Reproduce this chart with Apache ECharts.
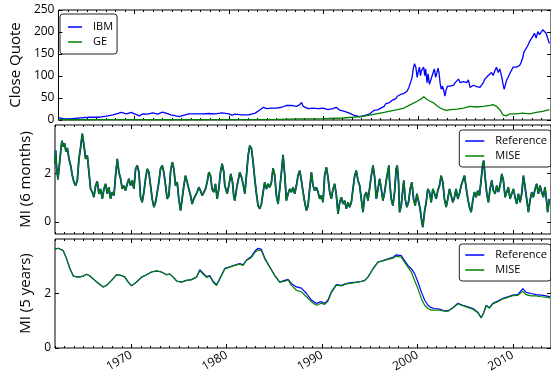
<!DOCTYPE html>
<html>
<head>
<meta charset="utf-8">
<script src="https://cdn.jsdelivr.net/npm/echarts@6.0.0/dist/echarts.min.js"></script>
<style>
  html, body { margin: 0; padding: 0; background: #fff; }
  #chart { width: 551px; height: 375px; }
</style>
</head>
<body>
<div id="chart"></div>
<script>
// close quotes [year, value]
var ibm = [[1962.00,5.6],[1962.52,2.5],[1963.22,2.5],[1964.27,4.8],[1965.32,6.3],[1966.36,6.3],[1967.06,8.7],
  [1967.76,11.8],[1968.28,14.8],[1968.63,17.2],[1969.16,14.1],[1969.68,17.2],[1970.03,14.1],[1970.55,9.4],
  [1970.90,14.1],[1971.42,13.3],[1971.95,16.4],[1972.47,13.3],[1972.99,17.9],[1973.34,15.6],[1973.87,11.8],
  [1974.39,9.4],[1974.74,7.9],[1975.26,11.0],[1975.79,14.1],[1976.48,14.1],[1977.18,14.1],[1977.88,14.8],
  [1978.58,14.1],[1979.28,16.4],[1979.98,14.1],[1980.32,11.0],[1980.67,13.3],[1981.37,11.8],[1982.07,11.8],
  [1982.77,15.6],[1983.29,23.4],[1983.64,28.8],[1983.99,25.7],[1984.51,27.2],[1985.04,27.2],[1985.56,29],
  [1986.09,33],[1986.60,33],[1987.13,31],[1987.48,35],[1987.66,40],[1987.83,31],[1988.36,26],[1988.88,27],
  [1989.40,26],[1989.93,27],[1990.45,23.4],[1990.97,25.7],[1991.32,28.8],[1991.67,22.6],[1992.20,19.5],
  [1992.72,15.6],[1993.24,10.2],[1993.77,7.9],[1994.29,10.2],[1994.81,13.3],[1994.98,17],[1995.33,22],
  [1995.68,23],[1996.03,27],[1996.38,31],[1996.55,37],[1996.73,33],[1996.90,39],[1997.07,40],[1997.25,45],
  [1997.42,43],[1997.60,48],[1997.77,54],[1997.95,53],[1998.12,58],[1998.30,56],[1998.47,60],[1998.64,58],
  [1998.82,66],[1998.99,74],[1999.17,85],[1999.34,97],[1999.45,116],[1999.59,128],[1999.73,120],[1999.87,97],
  [1999.97,108],[2000.11,120],[2000.22,101],[2000.32,112],[2000.46,108],[2000.56,120],[2000.67,101],
  [2000.77,116],[2000.91,85],[2001.02,105],[2001.16,81],[2001.26,77],[2001.40,97],[2001.54,101],[2001.68,116],
  [2001.82,97],[2001.96,108],[2002.07,118],[2002.17,108],[2002.31,81],[2002.41,70],[2002.55,77],[2002.69,66],
  [2002.80,54],[2002.94,70],[2003.08,77],[2003.22,74],[2003.36,77],[2003.53,81],[2003.71,79],[2003.88,85],
  [2004.06,89],[2004.23,93],[2004.40,85],[2004.58,84],[2004.75,87],[2004.93,89],[2005.10,85],[2005.28,91],
  [2005.45,74],[2005.63,70],[2005.80,79],[2005.97,81],[2006.15,76],[2006.32,79],[2006.50,74],[2006.67,77],
  [2006.85,85],[2007.02,93],[2007.20,89],[2007.37,101],[2007.55,105],[2007.72,108],[2007.89,101],[2008.07,112],
  [2008.24,120],[2008.42,108],[2008.59,116],[2008.77,101],[2008.94,81],[2009.05,70],[2009.15,77],[2009.29,89],
  [2009.47,97],[2009.64,105],[2009.81,112],[2009.99,120],[2010.16,124],[2010.34,120],[2010.51,122],
  [2010.69,124],[2010.86,132],[2011.04,143],[2011.14,155],[2011.28,151],[2011.39,163],[2011.56,170],
  [2011.73,178],[2011.91,182],[2012.08,190],[2012.26,197],[2012.43,186],[2012.61,201],[2012.78,194],
  [2012.96,197],[2013.13,205],[2013.30,209],[2013.48,197],[2013.65,194],[2013.83,174]];

var ge = [[1962.00,0.6],[1966.0,0.8],[1970.0,0.7],[1974.0,0.6],[1978.0,0.7],[1982.0,0.9],[1985.04,1.5],
  [1987.7,2.5],[1990.0,3.2],[1992.0,4.5],[1994.0,7.5],[1994.98,11.8],[1996.38,17.2],[1997.77,23.4],
  [1998.47,27.2],[1999.17,35],[1999.87,42.7],[2000.30,48],[2000.56,52.7],[2000.74,50.4],[2000.91,46.6],
  [2001.10,49],[2001.26,42.7],[2001.61,38.8],[2001.96,32.6],[2002.31,27.2],[2002.66,23.4],[2003.01,21.8],
  [2003.36,23.4],[2004.06,24.9],[2004.75,27.2],[2005.45,31.1],[2006.15,29.5],[2006.85,31.1],[2007.55,33.4],
  [2007.89,35],[2008.24,31.1],[2008.59,23.4],[2008.94,11.8],[2009.29,9.4],[2009.64,14.1],[2010.34,14.1],
  [2011.04,15.6],[2011.73,14.1],[2012.43,17.2],[2013.13,19.5],[2013.83,23.4]];

// mutual information over a 6 month window [year, value]
var mi6 = [[1962.00,2.4],[1962.07,2.95],[1962.16,2.3],[1962.31,1.75],[1962.45,2.3],[1962.62,3.0],[1962.73,3.35],
  [1962.87,3.1],[1963.00,3.25],[1963.15,2.9],[1963.29,3.05],[1963.47,2.6],[1963.64,2.33],[1963.82,1.91],
  [1963.99,1.64],[1964.16,1.50],[1964.34,1.71],[1964.51,2.60],[1964.69,3.09],[1964.86,3.64],[1965.04,3.15],
  [1965.21,2.60],[1965.39,2.74],[1965.56,2.05],[1965.73,1.36],[1965.91,1.23],[1966.08,1.02],[1966.26,1.50],
  [1966.43,1.67],[1966.61,1.16],[1966.78,1.36],[1966.96,0.95],[1967.13,1.36],[1967.31,1.57],[1967.48,1.16],
  [1967.65,1.43],[1967.83,0.95],[1968.00,1.23],[1968.18,1.09],[1968.35,1.91],[1968.53,2.60],[1968.70,2.05],
  [1968.88,1.78],[1969.05,1.36],[1969.23,1.50],[1969.40,1.29],[1969.57,1.57],[1969.75,1.78],[1969.92,1.50],
  [1970.10,1.71],[1970.27,1.36],[1970.45,2.19],[1970.62,2.33],[1970.80,2.05],[1970.97,1.02],[1971.14,0.81],
  [1971.32,1.23],[1971.49,1.78],[1971.67,2.19],[1971.84,2.05],[1972.02,1.50],[1972.19,0.95],[1972.37,0.61],
  [1972.54,0.81],[1972.72,1.23],[1972.89,1.64],[1973.06,2.19],[1973.24,2.33],[1973.41,2.05],[1973.59,1.50],
  [1973.76,0.95],[1973.94,1.09],[1974.11,2.05],[1974.29,2.47],[1974.46,2.19],[1974.64,1.50],[1974.81,1.64],
  [1974.98,0.95],[1975.16,0.47],[1975.33,0.95],[1975.51,1.50],[1975.68,1.91],[1975.86,1.64],[1976.03,1.36],
  [1976.21,1.09],[1976.38,0.74],[1976.55,0.95],[1976.73,1.02],[1976.90,1.23],[1977.08,1.43],[1977.25,1.29],
  [1977.43,1.09],[1977.60,1.16],[1977.78,1.36],[1977.95,1.64],[1978.13,2.05],[1978.30,1.91],[1978.47,1.36],
  [1978.65,1.23],[1978.82,1.57],[1979.00,0.95],[1979.17,1.36],[1979.35,2.05],[1979.52,2.40],[1979.70,2.05],
  [1979.80,1.50],[1979.91,1.36],[1980.05,1.16],[1980.26,1.57],[1980.43,1.98],[1980.61,1.64],[1980.75,1.02],
  [1980.85,0.88],[1981.03,1.36],[1981.20,1.71],[1981.37,2.05],[1981.55,1.85],[1981.72,1.57],[1981.90,1.16],
  [1982.07,1.91],[1982.25,2.74],[1982.42,3.15],[1982.60,3.02],[1982.77,2.47],[1982.94,1.78],[1983.12,1.16],
  [1983.29,0.67],[1983.47,0.54],[1983.64,0.74],[1983.82,1.23],[1983.99,1.64],[1984.17,1.36],[1984.34,1.57],
  [1984.52,1.43],[1984.69,1.64],[1984.86,2.22],[1985.04,1.91],[1985.21,1.09],[1985.39,0.74],[1985.56,1.36],
  [1985.74,2.05],[1985.91,2.77],[1986.09,1.91],[1986.26,0.88],[1986.44,1.16],[1986.61,1.36],[1986.78,1.23],
  [1986.96,1.43],[1987.13,1.16],[1987.31,1.50],[1987.48,1.91],[1987.66,2.12],[1987.83,1.71],[1988.01,1.23],
  [1988.18,0.81],[1988.36,0.47],[1988.53,0.67],[1988.70,1.36],[1988.88,2.05],[1989.05,1.50],[1989.23,1.29],
  [1989.40,1.43],[1989.58,1.23],[1989.75,0.95],[1989.93,1.09],[1990.10,0.81],[1990.27,1.91],[1990.45,2.26],
  [1990.62,1.85],[1990.80,1.23],[1990.97,0.95],[1991.15,1.36],[1991.32,1.57],[1991.50,1.09],[1991.67,0.33],
  [1991.85,0.81],[1992.02,1.02],[1992.19,0.74],[1992.37,0.88],[1992.54,0.54],[1992.72,0.81],[1992.89,0.61],
  [1993.07,0.81],[1993.24,1.36],[1993.42,1.91],[1993.59,2.12],[1993.76,1.71],[1993.94,1.50],[1994.11,0.95],
  [1994.29,0.40],[1994.46,1.09],[1994.64,1.23],[1994.81,0.88],[1994.99,0.95],[1995.16,1.91],[1995.34,2.33],
  [1995.51,1.85],[1995.69,0.95],[1995.86,1.36],[1996.03,1.78],[1996.21,1.36],[1996.38,0.88],[1996.56,1.23],
  [1996.73,1.71],[1996.91,2.12],[1997.01,2.33],[1997.07,1.71],[1997.25,0.95],[1997.42,0.67],[1997.60,1.23],
  [1997.77,2.19],[1997.88,2.33],[1998.02,1.64],[1998.12,0.40],[1998.30,0.67],[1998.47,1.36],[1998.57,1.71],
  [1998.71,0.95],[1998.89,0.61],[1999.06,0.81],[1999.24,1.36],[1999.41,1.64],[1999.59,0.95],[1999.76,0.67],
  [1999.94,1.16],[2000.11,1.23],[2000.28,0.54],[2000.46,-0.01],[2000.56,-0.22],[2000.74,0.40],[2000.91,0.81],
  [2001.09,1.36],[2001.26,1.23],[2001.44,0.81],[2001.61,1.36],[2001.79,1.16],[2001.96,0.95],[2002.13,1.29],
  [2002.31,1.50],[2002.48,1.91],[2002.66,1.64],[2002.83,0.95],[2003.01,0.61],[2003.18,0.95],[2003.36,1.36],
  [2003.53,1.09],[2003.71,0.81],[2003.88,1.02],[2004.05,1.36],[2004.23,0.95],[2004.40,1.16],[2004.58,1.50],
  [2004.75,1.50],[2004.93,1.91],[2005.10,1.43],[2005.28,0.95],[2005.45,0.61],[2005.63,0.40],[2005.80,0.88],
  [2005.97,1.23],[2006.15,1.02],[2006.32,1.29],[2006.50,1.09],[2006.67,1.71],[2006.85,2.40],[2006.95,2.53],
  [2007.09,1.85],[2007.27,1.16],[2007.44,0.81],[2007.61,1.36],[2007.79,1.71],[2007.96,1.29],[2008.14,1.16],
  [2008.31,1.50],[2008.49,1.23],[2008.66,1.50],[2008.84,1.98],[2009.01,1.71],[2009.19,1.02],[2009.36,1.23],
  [2009.53,1.43],[2009.71,0.95],[2009.88,1.16],[2010.06,1.36],[2010.23,1.02],[2010.41,0.74],[2010.58,1.16],
  [2010.76,0.81],[2010.93,1.16],[2011.11,1.91],[2011.28,1.43],[2011.45,0.95],[2011.63,0.40],[2011.80,0.88],
  [2011.98,1.23],[2012.15,1.02],[2012.33,1.36],[2012.50,1.57],[2012.68,1.16],[2012.85,1.50],[2013.02,1.23],
  [2013.20,1.02],[2013.37,1.43],[2013.55,0.81],[2013.65,0.40],[2013.83,0.95]];

// mutual information over a 5 year window [year, value]
var mi5Ref = [[1962.00,3.63],[1962.35,3.66],[1962.52,3.70],[1962.87,3.57],[1963.22,3.27],[1963.57,2.91],
  [1963.92,2.64],[1964.44,2.60],[1964.97,2.64],[1965.32,2.71],[1965.66,2.64],[1966.19,2.48],[1966.71,2.33],
  [1967.06,2.24],[1967.41,2.30],[1967.93,2.48],[1968.46,2.69],[1968.98,2.66],[1969.33,2.60],[1969.68,2.42],
  [1970.03,2.28],[1970.55,2.42],[1971.08,2.60],[1971.60,2.69],[1972.12,2.79],[1972.65,2.83],[1973.17,2.79],
  [1973.69,2.69],[1974.04,2.71],[1974.39,2.60],[1974.74,2.46],[1975.26,2.42],[1975.79,2.48],[1976.31,2.51],
  [1976.83,2.60],[1977.18,2.87],[1977.53,2.75],[1977.88,2.62],[1978.23,2.66],[1978.58,2.44],[1978.93,2.32],
  [1979.28,2.55],[1979.80,2.92],[1980.32,2.98],[1980.85,3.04],[1981.37,3.10],[1981.72,3.05],[1982.07,3.23],
  [1982.59,3.36],[1982.94,3.55],[1983.29,3.66],[1983.64,3.62],[1983.99,3.30],[1984.51,2.98],[1985.04,2.66],
  [1985.56,2.42],[1986.09,2.48],[1986.44,2.52],[1986.79,2.36],[1987.31,2.24],[1987.83,2.20],[1988.36,2.00],
  [1988.88,1.76],[1989.40,1.64],[1989.93,1.70],[1990.28,1.64],[1990.62,1.76],[1990.97,2.06],[1991.50,2.33],
  [1992.02,2.30],[1992.54,2.36],[1993.07,2.40],[1993.59,2.42],[1994.12,2.45],[1994.46,2.48],[1994.81,2.60],
  [1995.34,2.91],[1995.86,3.15],[1996.38,3.21],[1996.91,3.27],[1997.43,3.33],[1997.78,3.42],[1998.30,3.39],
  [1998.65,3.21],[1999.00,3.03],[1999.35,2.91],[1999.70,2.73],[2000.05,2.42],[2000.40,2.06],[2000.75,1.76],
  [2001.10,1.57],[2001.45,1.48],[2001.79,1.45],[2002.32,1.43],[2002.84,1.36],[2003.19,1.36],[2003.71,1.48],
  [2004.24,1.64],[2004.76,1.57],[2005.28,1.51],[2005.81,1.45],[2006.33,1.31],[2006.68,1.11],[2006.96,1.31],
  [2007.20,1.57],[2007.55,1.48],[2007.90,1.64],[2008.42,1.72],[2008.95,1.82],[2009.47,1.88],[2009.99,1.94],
  [2010.52,1.96],[2011.04,2.18],[2011.39,2.04],[2011.92,2.00],[2012.44,1.96],[2012.96,1.94],[2013.49,1.91],
  [2013.90,1.88]];

var mi5Mise = [[1962.00,3.63],[1962.35,3.66],[1962.52,3.70],[1962.87,3.57],[1963.22,3.27],[1963.57,2.91],
  [1963.92,2.64],[1964.44,2.60],[1964.97,2.64],[1965.32,2.71],[1965.66,2.64],[1966.19,2.48],[1966.71,2.33],
  [1967.06,2.24],[1967.41,2.30],[1967.93,2.48],[1968.46,2.69],[1968.98,2.66],[1969.33,2.60],[1969.68,2.42],
  [1970.03,2.28],[1970.55,2.42],[1971.08,2.60],[1971.60,2.69],[1972.12,2.79],[1972.65,2.83],[1973.17,2.79],
  [1973.69,2.69],[1974.04,2.71],[1974.39,2.60],[1974.74,2.46],[1975.26,2.42],[1975.79,2.48],[1976.31,2.51],
  [1976.83,2.60],[1977.18,2.84],[1977.53,2.71],[1977.88,2.59],[1978.23,2.63],[1978.58,2.41],[1978.93,2.29],
  [1979.28,2.53],[1979.80,2.90],[1980.32,2.97],[1980.85,3.03],[1981.37,3.08],[1981.72,3.03],[1982.07,3.21],
  [1982.59,3.32],[1982.94,3.50],[1983.29,3.60],[1983.64,3.57],[1983.99,3.27],[1984.51,2.97],[1985.04,2.66],
  [1985.56,2.42],[1986.09,2.45],[1986.44,2.50],[1986.79,2.30],[1987.31,2.12],[1987.83,2.06],[1988.36,1.88],
  [1988.88,1.70],[1989.40,1.57],[1989.93,1.64],[1990.28,1.60],[1990.62,1.72],[1990.97,2.03],[1991.50,2.31],
  [1992.02,2.28],[1992.54,2.35],[1993.07,2.38],[1993.59,2.41],[1994.12,2.44],[1994.46,2.47],[1994.81,2.60],
  [1995.34,2.90],[1995.86,3.15],[1996.38,3.20],[1996.91,3.25],[1997.43,3.30],[1997.78,3.37],[1998.30,3.33],
  [1998.65,3.15],[1999.00,2.97],[1999.35,2.79],[1999.70,2.48],[2000.05,2.18],[2000.40,1.82],[2000.75,1.57],
  [2001.10,1.45],[2001.45,1.39],[2001.79,1.39],[2002.32,1.39],[2002.84,1.35],[2003.19,1.35],[2003.71,1.47],
  [2004.24,1.62],[2004.76,1.55],[2005.28,1.49],[2005.81,1.42],[2006.33,1.29],[2006.68,1.10],[2006.96,1.30],
  [2007.20,1.55],[2007.55,1.46],[2007.90,1.62],[2008.42,1.70],[2008.95,1.80],[2009.47,1.86],[2009.99,1.92],
  [2010.52,1.93],[2011.04,2.08],[2011.39,1.96],[2011.92,1.91],[2012.44,1.91],[2012.96,1.88],[2013.49,1.87],
  [2013.90,1.84]];

var decadeTicks = [1970, 1980, 1990, 2000, 2010];
var yearTicks = [];
for (var y = 1962; y <= 2013; y++) yearTicks.push(y);

var xMin = 1962, xMax = 2014.0;
var font = 'Open Sans';
var grids = [
  {left: 55, width: 497, top: 10, height: 110},
  {left: 55, width: 497, top: 125, height: 109},
  {left: 55, width: 497, top: 239, height: 109}
];

function plain(v) { return String(v); }

function xAxes(gi, labels) {
  var out = [];
  var sides = ['bottom', 'top'];
  for (var s = 0; s < 2; s++) {
    out.push({
      gridIndex: gi, type: 'value', min: xMin, max: xMax, position: sides[s],
      axisLine: {show: false, onZero: false}, splitLine: {show: false},
      axisTick: {inside: true, length: 4, customValues: decadeTicks, lineStyle: {color: '#000'}},
      axisLabel: {show: labels && s === 0, customValues: decadeTicks, rotate: 30, margin: 6,
        formatter: plain, color: '#000', fontSize: 12, fontFamily: font}
    });
    out.push({
      gridIndex: gi, type: 'value', min: xMin, max: xMax, position: sides[s],
      axisLine: {show: false, onZero: false}, splitLine: {show: false},
      axisTick: {inside: true, length: 2, customValues: yearTicks, lineStyle: {color: '#000'}},
      axisLabel: {show: false}
    });
  }
  return out;
}

function yAxes(gi, min, max, ticks, name, gap) {
  var left = {
    gridIndex: gi, type: 'value', min: min, max: max, position: 'left',
    name: name, nameLocation: 'middle', nameGap: gap, nameRotate: 90,
    nameTextStyle: {fontSize: 15, fontFamily: font, color: '#000'},
    axisLine: {show: false, onZero: false}, splitLine: {show: false},
    axisTick: {inside: true, length: 4, customValues: ticks, lineStyle: {color: '#000'}},
    axisLabel: {customValues: ticks, margin: 4, formatter: plain, color: '#000', fontSize: 12, fontFamily: font}
  };
  var right = {
    gridIndex: gi, type: 'value', min: min, max: max, position: 'right',
    axisLine: {show: false, onZero: false}, splitLine: {show: false},
    axisTick: {inside: true, length: 4, customValues: ticks, lineStyle: {color: '#000'}},
    axisLabel: {show: false}
  };
  return [left, right];
}

function legendBox(names, pos, lineW) {
  var l = {
    orient: 'vertical', icon: 'rect', itemWidth: lineW, itemHeight: 1.5, itemGap: 3,
    borderColor: '#222', borderWidth: 1, borderRadius: 3,
    textStyle: {fontSize: 11, lineHeight: 12, fontFamily: font, color: '#000', padding: [0, 0, 0, 6]},
    data: names
  };
  for (var k in pos) l[k] = pos[k];
  return l;
}

function line(name, data, xi, yi, color, w, z) {
  return {
    name: name, type: 'line', data: data, xAxisIndex: xi, yAxisIndex: yi,
    symbol: 'none', showSymbol: false, z: z,
    lineStyle: {color: color, width: w}, itemStyle: {color: color}
  };
}

var xs = xAxes(0, false).concat(xAxes(1, false), xAxes(2, true));
var ys = yAxes(0, 0, 250, [0, 50, 100, 150, 200, 250], 'Close Quote', 22)
  .concat(yAxes(1, -0.5, 4, [0, 2], 'MI (6 months)', 16), yAxes(2, 0, 4, [0, 2], 'MI (5 years)', 16));

var option = {
  animation: false,
  backgroundColor: '#fff',
  grid: grids.map(function (g) {
    return Object.assign({show: true, borderColor: '#000', borderWidth: 1}, g);
  }),
  xAxis: xs,
  yAxis: ys,
  legend: [
    legendBox(['IBM', 'GE'], {left: 60, top: 14, padding: [7, 4, 6, 8]}, 14),
    legendBox(['Reference', 'MISE'], {right: 0, top: 130, padding: [5, 4, 5, 6]}, 19),
    legendBox(['Reference', 'MISE'], {right: 0, top: 244, padding: [5, 4, 5, 6]}, 19)
  ],
  series: [
    line('IBM', ibm, 0, 0, '#0000ff', 1.3, 2),
    line('GE', ge, 0, 0, '#008000', 1.3, 3),
    line('Reference', mi6, 4, 2, '#0000ff', 1.8, 2),
    line('MISE', mi6, 4, 2, '#008000', 1.4, 3),
    line('Reference', mi5Ref, 8, 4, '#0000ff', 1.2, 2),
    line('MISE', mi5Mise, 8, 4, '#008000', 1.2, 3)
  ]
};

window.onload = function () {
  var chart = echarts.init(document.getElementById('chart'));
  chart.setOption(option);
};
</script>
</body>
</html>
